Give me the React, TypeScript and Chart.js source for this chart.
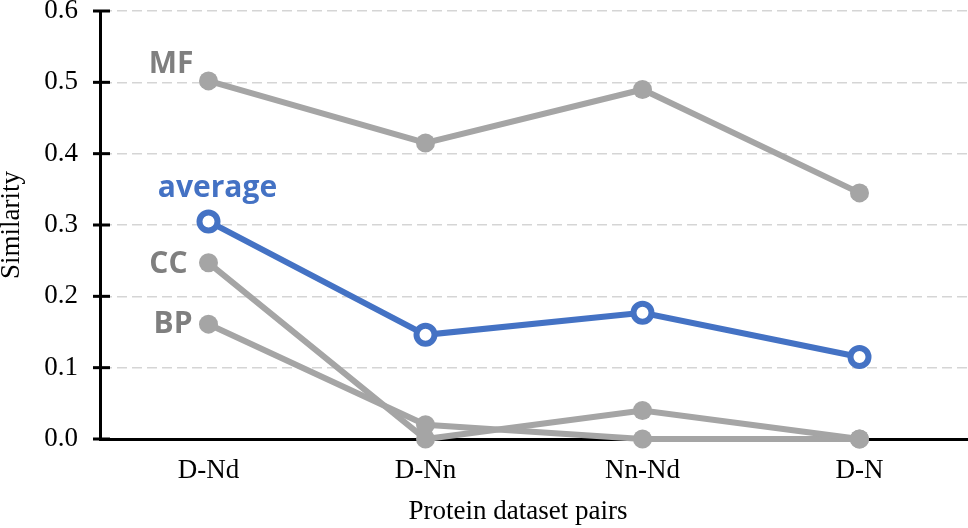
import React, { useEffect, useRef } from "react";
import { Chart, registerables } from "chart.js";

Chart.register(...registerables);

const categories = ["D-Nd", "D-Nn", "Nn-Nd", "D-N"];
const mfValues = [0.502, 0.415, 0.49, 0.345];
const averageValues = [0.305, 0.146, 0.177, 0.115];
const ccValues = [0.247, 0.0, 0.04, 0.0];
const bpValues = [0.161, 0.02, 0.0, 0.0];
const yTicks = [0, 0.1, 0.2, 0.3, 0.4, 0.5, 0.6];
const xTitle = "Protein dataset pairs";
const yTitle = "Similarity";

const GRAY = "#A5A5A5";
const LABEL_GRAY = "#7F7F7F";
const BLUE = "#4472C4";

const seriesLabels = [
  { dataset: 0, text: "MF", color: LABEL_GRAY, align: "right", dx: -15, dy: -8 },
  { dataset: 1, text: "CC", color: LABEL_GRAY, align: "right", dx: -21, dy: 10 },
  { dataset: 2, text: "BP", color: LABEL_GRAY, align: "right", dx: -16, dy: 9 },
  { dataset: 3, text: "average", color: BLUE, align: "center", dx: 9, dy: -24 },
];

if (typeof document !== "undefined") {
  document.documentElement.style.overflow = "hidden";
  document.body.style.margin = "0";
  document.body.style.overflow = "hidden";
}

const decorPlugin = {
  id: "decor",
  afterDraw(chart: any) {
    const ctx = chart.ctx;
    const y = chart.scales.y;
    const area = chart.chartArea;
    ctx.save();
    ctx.strokeStyle = "#000";
    ctx.lineWidth = 3;
    for (const t of yTicks) {
      const py = y.getPixelForValue(t);
      ctx.beginPath();
      ctx.moveTo(y.right - 7, py);
      ctx.lineTo(y.right + 10, py);
      ctx.stroke();
    }
    // x axis title (slightly left of the plot centre, as in the source)
    ctx.fillStyle = "#000";
    ctx.font = "27px 'Liberation Serif'";
    ctx.textAlign = "center";
    ctx.textBaseline = "middle";
    ctx.fillText(xTitle, (area.left + area.right) / 2 - 16, chart.height - 16);

    ctx.font = "bold 30px 'Open Sans'";
    ctx.textBaseline = "alphabetic";
    for (const l of seriesLabels) {
      const pt = chart.getDatasetMeta(l.dataset).data[0];
      ctx.fillStyle = l.color;
      ctx.textAlign = l.align;
      ctx.fillText(l.text, pt.x + l.dx, pt.y + l.dy);
    }
    ctx.restore();
  },
};

export default function App() {
  const ref = useRef<HTMLCanvasElement>(null);
  useEffect(() => {
    const grayDs = (label: string, data: number[]) => ({
      label,
      data,
      borderColor: GRAY,
      backgroundColor: GRAY,
      borderWidth: 6,
      pointRadius: 9.5,
      pointBorderWidth: 0,
      pointBackgroundColor: GRAY,
      tension: 0,
      clip: false as any,
    });
    const chart = new Chart(ref.current!, {
      type: "line",
      data: {
        labels: categories,
        datasets: [
          grayDs("MF", mfValues),
          grayDs("CC", ccValues),
          grayDs("BP", bpValues),
          {
            label: "average",
            data: averageValues,
            borderColor: BLUE,
            backgroundColor: "#fff",
            borderWidth: 6,
            pointRadius: 9,
            pointBorderWidth: 6,
            pointBorderColor: BLUE,
            pointBackgroundColor: "#fff",
            tension: 0,
            clip: false as any,
          },
        ],
      },
      options: {
        animation: false,
        responsive: false,
        devicePixelRatio: 1,
        layout: { autoPadding: false, padding: { top: 11, right: 0, left: 0, bottom: 0 } },
        plugins: { legend: { display: false }, tooltip: { enabled: false } },
        scales: {
          x: {
            offset: true,
            grid: { display: false, drawTicks: false },
            border: { display: true, color: "#000", width: 3 },
            ticks: {
              color: "#000",
              padding: 16,
              font: { family: "'Liberation Serif'", size: 27, lineHeight: 1.2 },
            },
            title: { display: false },
            afterFit(scale: any) {
              scale.height = 89;
              scale.paddingLeft = 0;
              scale.paddingRight = 0;
            },
          },
          y: {
            min: 0,
            max: 0.6,
            afterBuildTicks(scale: any) {
              scale.ticks = yTicks.map((v) => ({ value: v }));
            },
            grid: { color: "#D5D5D5", lineWidth: 1.5, drawTicks: false },
            border: { display: true, color: "#000", width: 3, dash: [10, 5] },
            ticks: {
              color: "#000",
              padding: 22,
              font: { family: "'Liberation Serif'", size: 27, lineHeight: 1.2 },
              callback: (v: any) => Number(v).toFixed(1),
            },
            title: {
              display: true,
              text: yTitle,
              color: "#000",
              padding: 0,
              font: { family: "'Liberation Serif'", size: 27, lineHeight: 0.9 },
            },
            afterFit(scale: any) {
              scale.width = 100;
              scale.paddingTop = 0;
              scale.paddingBottom = 0;
            },
          },
        },
      },
      plugins: [decorPlugin],
    });
    return () => chart.destroy();
  }, []);
  return (
    <div
      style={{
        position: "fixed",
        left: 0,
        top: 0,
        width: 968,
        height: 528,
        overflow: "hidden",
      }}
    >
      <canvas
        ref={ref}
        width={968}
        height={528}
        style={{ display: "block", width: "968px", height: "528px" }}
      />
    </div>
  );
}
